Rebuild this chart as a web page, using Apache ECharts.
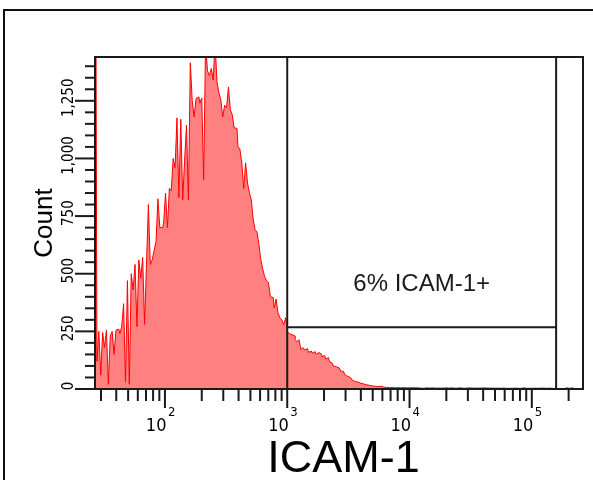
<!DOCTYPE html>
<html><head><meta charset="utf-8">
<script src="https://cdn.jsdelivr.net/npm/echarts@6/dist/echarts.min.js"></script>
<style>html,body{margin:0;padding:0;background:#fff}#c{width:593px;height:480px}</style>
</head><body><div id="c"></div>
<script>
// Histogram counts, 256 equal-width bins across the log display range (left to right)
const counts = [
1600,120,250,60,245,180,255,20,230,250, 150,255,260,240,270,370,30,470,20,500,
430,540,270,560,480,570,280,540,800,540, 560,600,640,825,700,700,720,850,700,870,
860,1000,960,1176,830,1170,820,990,1145,820, 1415,1250,1180,1260,1267,1240,1262,908,1500,1380,
1360,1390,1340,1500,1330,1285,1254,1180,1230,1220, 1310,1211,1190,1133,1130,1051,1040,981,870,981,
894,851,820,734,691,680,626,560,520,487, 470,461,400,396,352,390,330,309,300,279,
309,249,240,235,230,214,205,214,171,180, 170,175,158,165,155,162,150,158,150,140,
145,130,136,120,112,100,97,92,85,78, 75,62,55,50,42,38,32,30,27,25,
22,20,18,16,15,13,12,11,10,12, 9,8,7,8,6,7,6,5,6,5,
5,6,4,5,5,4,6,5,4,5, 4,5,3,5,4,4,5,6,4,4,
5,4,4,3,5,4,4,5,3,4, 4,5,4,3,4,4,5,4,3,4,
4,3,4,5,3,4,4,3,4,3, 4,4,3,5,4,3,4,3,3,4,
4,3,4,3,5,4,3,3,4,3, 4,3,3,4,3,4,3,3,4,3,
4,0,0,1,0,0,0,5,3,0, 5,0,5,0,0,0
];
const binNames = counts.map(function (_, i) { return 'bin' + i; });

const xMin = 26.8, xMax = 262144;
const yMin = 0, yMax = 1440;
const xMajorTicks = [100, 1000, 10000, 100000];
const xMajorExp = ['2', '3', '4', '5'];
const xMinorTicks = [30,40,50,60,70,80,90, 200,300,400,500,600,700,800,900,
  2000,3000,4000,5000,6000,7000,8000,9000, 20000,30000,40000,50000,60000,70000,80000,90000, 200000];
const yMajorTicks = [0, 250, 500, 750, 1000, 1250];
const yMajorLabels = ['0', '250', '500', '750', '1,000', '1,250'];
const yMinorTicks = [50,100,150,200, 300,350,400,450, 550,600,650,700, 800,850,900,950,
  1050,1100,1150,1200, 1300,1350,1400];
const gateX = [1000, 158000];
const gateY = 268;
const gateLabel = '6% ICAM-1+';
const gateLabelY = 452;
const xTitle = 'ICAM-1';
const yTitle = 'Count';

const INK = '#1a1a1a';
const NARROW = '"Liberation Sans Narrow", "Arial Narrow", "DejaVu Sans Condensed", sans-serif';
const REG = '"Liberation Sans", Arial, sans-serif';

function renderOverlay(params, api) {
  const ch = [];
  const tl = api.coord([xMin, yMax]);
  const br = api.coord([xMax, yMin]);
  const bottom = br[1], left = tl[0];
  function line(x1, y1, x2, y2, w) {
    ch.push({ type: 'line', shape: { x1: x1, y1: y1, x2: x2, y2: y2 }, style: { stroke: INK, lineWidth: w || 1.5 } });
  }
  // gate
  const g0 = api.coord([gateX[0], yMin]), g1 = api.coord([gateX[1], yMin]);
  const gy = api.coord([gateX[0], gateY]);
  line(g0[0], tl[1], g0[0], bottom, 2);
  line(g1[0], tl[1], g1[0], bottom, 2);
  line(g0[0], gy[1], g1[0], gy[1], 2);
  const gl = api.coord([Math.sqrt(gateX[0] * gateX[1]), gateLabelY]);
  ch.push({ type: 'text', x: gl[0], y: gl[1], style: { text: gateLabel, fill: INK, font: '24px ' + REG, align: 'center', verticalAlign: 'middle' } });
  // frame
  ch.push({ type: 'rect', shape: { x: left, y: tl[1], width: br[0] - left, height: bottom - tl[1] }, style: { fill: null, stroke: INK, lineWidth: 2 } });
  // x ticks
  xMinorTicks.forEach(function (v) { const p = api.coord([v, yMin]); line(p[0], bottom, p[0], bottom + 12, 2); });
  xMajorTicks.forEach(function (v, i) {
    const p = api.coord([v, yMin]);
    line(p[0], bottom, p[0], bottom + 19, 2);
    ch.push({ type: 'text', x: p[0] + 1.5, y: bottom + 37, style: { text: '10', fill: '#000', font: '18px ' + NARROW, align: 'right', verticalAlign: 'middle' } });
    ch.push({ type: 'text', x: p[0] + 3, y: bottom + 24, style: { text: xMajorExp[i], fill: '#000', font: '13px ' + NARROW, align: 'left', verticalAlign: 'middle' } });
  });
  // y ticks
  yMinorTicks.forEach(function (v) { const p = api.coord([xMin, v]); line(left - 10, p[1], left, p[1], 2); });
  yMajorTicks.forEach(function (v, i) {
    const p = api.coord([xMin, v]);
    line(left - 20, p[1], left, p[1], 2);
    ch.push({ type: 'text', x: left - 25.5, y: p[1] - 3, rotation: Math.PI / 2, style: { text: yMajorLabels[i], fill: '#000', font: '15px ' + NARROW, align: 'center', verticalAlign: 'middle' } });
  });
  return { type: 'group', children: ch };
}

const chart = echarts.init(document.getElementById('c'), null, { renderer: 'canvas' });
chart.setOption({
  animation: false,
  backgroundColor: '#fff',
  graphic: [{ type: 'rect', shape: { x: 4, y: 10, width: 700, height: 600 }, style: { fill: null, stroke: '#111', lineWidth: 2 }, z: 100 }],
  grid: { left: 95, right: 10, top: 57, bottom: 91, show: false, containLabel: false, outerBoundsMode: 'none' },
  xAxis: [
    { type: 'log', logBase: 10, min: xMin, max: xMax, axisLine: { show: false }, axisTick: { show: false },
      axisLabel: { show: false }, splitLine: { show: false }, minorTick: { show: false },
      name: xTitle, nameLocation: 'middle', nameGap: 48,
      nameTextStyle: { fontSize: 45, fontFamily: REG, color: '#000', padding: [0, 0, 0, 9] } },
    { type: 'category', data: binNames, boundaryGap: true, show: false }
  ],
  yAxis: [{ type: 'value', min: yMin, max: yMax, axisLine: { show: false }, axisTick: { show: false },
    axisLabel: { show: false }, splitLine: { show: false },
    name: yTitle, nameLocation: 'middle', nameGap: 37,
    nameTextStyle: { fontSize: 26, fontFamily: REG, color: '#000' } }],
  series: [
    { type: 'line', xAxisIndex: 1, yAxisIndex: 0, data: counts, step: 'middle', symbol: 'none', z: 2,
      lineStyle: { color: '#ff0000', width: 1 }, areaStyle: { color: '#ff8080', opacity: 1 } },
    { type: 'custom', xAxisIndex: 0, yAxisIndex: 0, data: [[1000, 0]], clip: false, z: 5, silent: true,
      renderItem: renderOverlay }
  ]
});
</script></body></html>
